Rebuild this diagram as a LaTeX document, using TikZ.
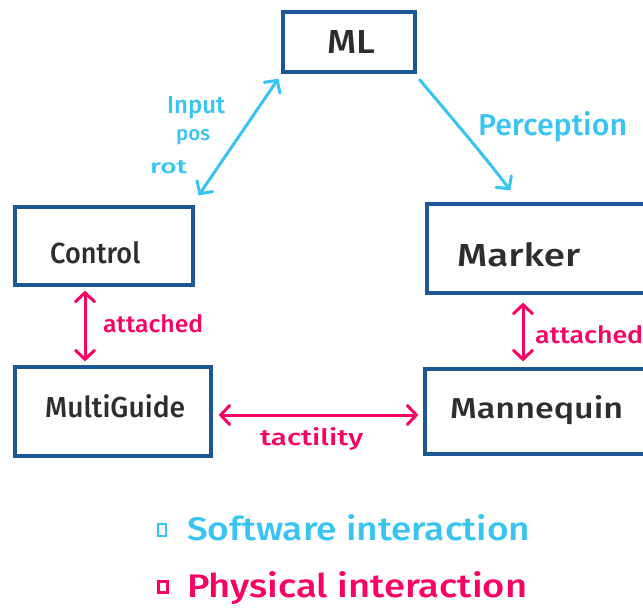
\documentclass[tikz,border=0pt]{standalone}
\usepackage{fontspec}
\setmainfont{Fira Sans}[BoldFont={Fira Sans Medium}]
\usetikzlibrary{arrows.meta,calc}
\definecolor{boxblue}{RGB}{28,88,150}
\definecolor{swcyan}{RGB}{56,196,243}
\definecolor{phmag}{RGB}{250,0,100}
\definecolor{ink}{RGB}{45,45,45}
\newcommand{\hw}[3]{\resizebox{#1}{#2}{\bfseries #3}}
\tikzset{
  blk/.style={draw=boxblue, line width=3.2pt, rectangle, inner sep=0pt},
  lbl/.style={inner sep=0pt, text=ink, anchor=base west},
  sw/.style={draw=swcyan, line width=3pt, line cap=round},
  ph/.style={draw=phmag, line width=3pt, line cap=round},
  tip/.style={arrows={Straight Barb[length=9pt,width=19pt,line cap=round]-Straight Barb[length=9pt,width=19pt,line cap=round]}},
  tipend/.style={arrows={-Straight Barb[length=9pt,width=19pt,line cap=round]}},
  swt/.style={inner sep=0pt, text=swcyan, anchor=base west},
  pht/.style={inner sep=0pt, text=phmag, anchor=base west}
}
\begin{document}
\begin{tikzpicture}[x=1pt,y=-1pt]
\useasboundingbox (0,0) rectangle (643,613);
\clip (0,0) rectangle (643,613);
\fill[white] (0,0) rectangle (643,613);
% boxes
\node[blk, minimum width=132pt, minimum height=60pt] (ml) at (349,42) {};
\node[blk, minimum width=178pt, minimum height=78pt] (control) at (104,246) {};
\node[blk, minimum width=221pt, minimum height=89pt] (marker) at (537.5,248.5) {};
\node[blk, minimum width=196pt, minimum height=89pt] (multiguide) at (113,411.5) {};
\node[blk, minimum width=223pt, minimum height=85pt] (mannequin) at (536.5,411.5) {};
% box texts
\node[lbl] (mlt) at (327,53) {\hw{48pt}{23pt}{ML}};
\node[lbl] (controlt) at (50,263) {\hw{90pt}{22pt}{Control}};
\node[lbl] (markert) at (457,266) {\hw{123pt}{24pt}{Marker}};
\node[lbl] (multiguidet) at (45,417) {\hw{140pt}{23pt}{MultiGuide}};
\node[lbl] (mannequint) at (450,418) {\hw{173pt}{23pt}{Mannequin}};
% software arrows
\draw[sw, tip] ($(ml.south west)+(-3,5)$) -- ($(control.north east)+(4,-10)$);
\draw[sw, tipend] ($(ml.south east)+(3,6)$) .. controls ($(ml.south east)+(40,50)$) and ($(marker.north west)+(60,-45)$) .. ($(marker.north west)+(85,-12)$);
\node[swt] (input) at (167,113) {\hw{58pt}{17pt}{Input}};
\node[swt] (pos) at (176,140) {\hw{34pt}{11pt}{pos}};
\node[swt] (rot) at (150,173) {\hw{37pt}{13pt}{rot}};
\node[swt] (perception) at (478,135) {\hw{149pt}{24pt}{Perception}};
% physical arrows
\draw[ph, tip] ($(control.south)+(-19,4)$) -- ($(multiguide.north)+(-28,-4)$);
\draw[ph, tip] ($(marker.south)+(-14.5,8)$) -- ($(mannequin.north)+(-13.5,-6)$);
\draw[ph, tip] ($(multiguide.east)+(6,3.5)$) -- ($(mannequin.west)+(-5,3.5)$);
\node[pht] (att1) at (103,332) {\hw{100pt}{18pt}{attached}};
\node[pht] (att2) at (535,343) {\hw{108pt}{18pt}{attached}};
\node[pht] (tact) at (260,445) {\hw{103pt}{18pt}{tactility}};
% legend
\node[draw=swcyan, line width=2.4pt, minimum width=8pt, minimum height=12pt, inner sep=0pt] (swsq) at (162,530) {};
\node[draw=phmag, line width=2.4pt, minimum width=9pt, minimum height=11pt, inner sep=0pt] (phsq) at (163,587) {};
\node[swt] (swleg) at (187,540) {\hw{343pt}{26pt}{Software interaction}};
\node[pht] (phleg) at (187,597) {\hw{340pt}{26pt}{Physical interaction}};
\end{tikzpicture}
\end{document}
